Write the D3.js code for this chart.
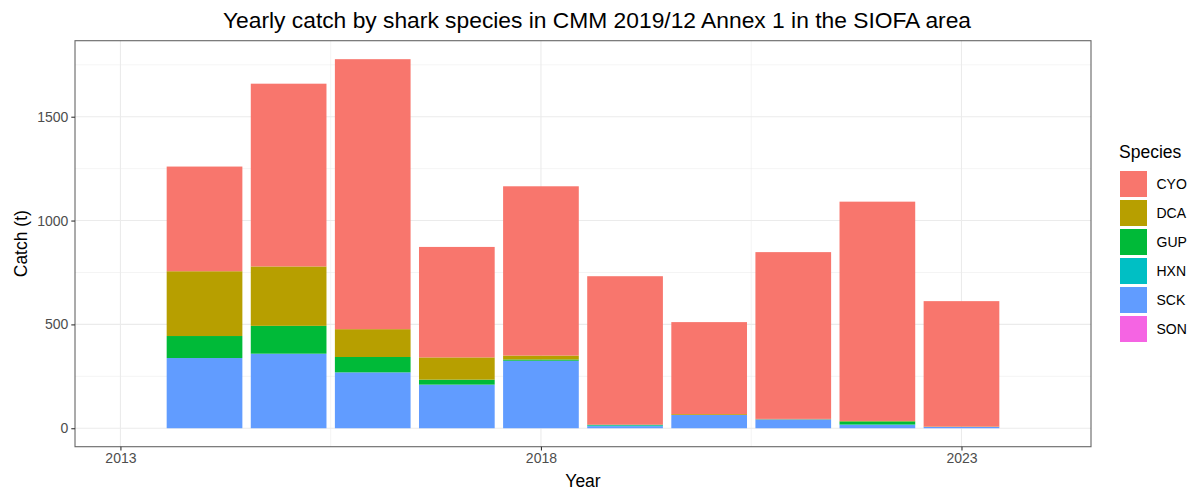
<!DOCTYPE html>
<html>
<head>
<meta charset="utf-8">
<script src="https://cdn.jsdelivr.net/npm/d3@7"></script>
<style>
  html, body { margin: 0; padding: 0; background: #fff; }
  svg { display: block; font-family: "Liberation Sans", Arial, sans-serif; }
</style>
</head>
<body>
<svg id="chart" width="1196" height="491"></svg>
<script>
// ---- data ----
const years = [2014, 2015, 2016, 2017, 2018, 2019, 2020, 2021, 2022, 2023];
const species = ["CYO", "DCA", "GUP", "HXN", "SCK", "SON"];
const CYO = [504, 880, 1300, 532, 815, 715, 443, 803, 1056, 604];
const DCA = [312, 286, 134, 107, 19, 0, 4, 2, 2, 2];
const GUP = [106, 134, 74, 24, 6, 3, 0, 0, 15, 0];
const HXN = [0, 0, 0, 0, 0, 4, 0, 0, 2, 0];
const SCK = [338, 359, 269, 210, 325, 10, 64, 43, 16, 6];
const SON = [0, 0, 0, 0, 0, 0, 0, 0, 0, 0];
const xTicks = [2013, 2018, 2023];
const yTicks = [0, 500, 1000, 1500];
const colors = ["#F8766D", "#B79F00", "#00BA38", "#00BFC4", "#619CFF", "#F564E3"];
const titleText = "Yearly catch by shark species in CMM 2019/12 Annex 1 in the SIOFA area";

const seriesValues = { CYO, DCA, GUP, HXN, SCK, SON };
const rows = years.map((y, i) => {
  const r = { year: y };
  species.forEach(s => r[s] = seriesValues[s][i]);
  return r;
});

// ---- layout ----
const svg = d3.select("#chart");
const P = { left: 75, right: 1091, top: 40.7, bottom: 446.7 };

const x = d3.scaleLinear().domain([2012.46, 2024.54]).range([P.left, P.right]);
const y = d3.scaleLinear().domain([-88.9, 1866]).range([P.bottom, P.top]);
const color = d3.scaleOrdinal().domain(species).range(colors);

// stack: ggplot puts first level on top -> stack from last to first
const stackKeys = species.slice().reverse();
const stacked = d3.stack().keys(stackKeys)(rows);

// panel background
svg.append("rect").attr("x", P.left).attr("y", P.top)
  .attr("width", P.right - P.left).attr("height", P.bottom - P.top).attr("fill", "#fff");

const grid = svg.append("g");
// minor gridlines
const yMinor = [250, 750, 1250, 1750];
const xMinor = [2015.5, 2020.5];
grid.selectAll(".ymn").data(yMinor).join("line")
  .attr("x1", P.left).attr("x2", P.right)
  .attr("y1", d => y(d)).attr("y2", d => y(d))
  .attr("stroke", "#EBEBEB").attr("stroke-width", 0.55);
grid.selectAll(".xmn").data(xMinor).join("line")
  .attr("y1", P.top).attr("y2", P.bottom)
  .attr("x1", d => x(d)).attr("x2", d => x(d))
  .attr("stroke", "#EBEBEB").attr("stroke-width", 0.55);
// major gridlines
grid.selectAll(".ymj").data(yTicks).join("line")
  .attr("x1", P.left).attr("x2", P.right)
  .attr("y1", d => y(d)).attr("y2", d => y(d))
  .attr("stroke", "#EBEBEB").attr("stroke-width", 1.1);
grid.selectAll(".xmj").data(xTicks).join("line")
  .attr("y1", P.top).attr("y2", P.bottom)
  .attr("x1", d => x(d)).attr("x2", d => x(d))
  .attr("stroke", "#EBEBEB").attr("stroke-width", 1.1);

// bars
const bw = (x(2014.45) - x(2013.55));
svg.append("g").selectAll("g").data(stacked).join("g")
  .attr("fill", d => color(d.key))
  .selectAll("rect").data(d => d).join("rect")
  .attr("x", d => x(d.data.year) - bw / 2)
  .attr("width", bw)
  .attr("y", d => y(d[1]))
  .attr("height", d => Math.max(0, y(d[0]) - y(d[1])));

// panel border
svg.append("rect").attr("x", P.left).attr("y", P.top)
  .attr("width", P.right - P.left).attr("height", P.bottom - P.top)
  .attr("fill", "none").attr("stroke", "#333333").attr("stroke-width", 1.1)
  .attr("stroke-opacity", 0.75);

// axes
const xAxis = d3.axisBottom(x).tickValues(xTicks).tickFormat(d3.format("d"))
  .tickSize(3.7).tickPadding(3);
const gx = svg.append("g").attr("transform", `translate(0,${P.bottom})`).call(xAxis);
gx.select(".domain").remove();
gx.selectAll(".tick line").attr("stroke", "#333333").attr("stroke-width", 1.1);
gx.selectAll(".tick text").attr("fill", "#4D4D4D").style("font-size", "14px")
  .style("font-family", "Liberation Sans, Arial, sans-serif");

const yAxis = d3.axisLeft(y).tickValues(yTicks).tickFormat(d3.format("d"))
  .tickSize(3.7).tickPadding(3);
const gy = svg.append("g").attr("transform", `translate(${P.left},0)`).call(yAxis);
gy.select(".domain").remove();
gy.selectAll(".tick line").attr("stroke", "#333333").attr("stroke-width", 1.1);
gy.selectAll(".tick text").attr("fill", "#4D4D4D").style("font-size", "14px")
  .style("font-family", "Liberation Sans, Arial, sans-serif");

// titles
svg.append("text").attr("x", 597).attr("y", 27.5).attr("text-anchor", "middle")
  .style("font-size", "22.8px").attr("fill", "#000").text(titleText);
svg.append("text").attr("x", (P.left + P.right) / 2).attr("y", 487).attr("text-anchor", "middle")
  .style("font-size", "17.5px").attr("fill", "#000").text("Year");
svg.append("text").attr("transform", `translate(27,${(P.top + P.bottom) / 2}) rotate(-90)`)
  .attr("text-anchor", "middle").style("font-size", "17.5px").attr("fill", "#000").text("Catch (t)");

// legend
const lg = svg.append("g");
lg.append("text").attr("x", 1119).attr("y", 158).style("font-size", "17.5px").attr("fill", "#000").text("Species");
const items = lg.selectAll("g.item").data(species).join("g").attr("class", "item")
  .attr("transform", (d, i) => `translate(1120,${171 + i * 29})`);
items.append("rect").attr("width", 27).attr("height", 26).attr("fill", d => color(d));
items.append("text").attr("x", 36.5).attr("y", 13).attr("dy", "0.36em")
  .style("font-size", "14px").attr("fill", "#000").text(d => d);
</script>
</body>
</html>
